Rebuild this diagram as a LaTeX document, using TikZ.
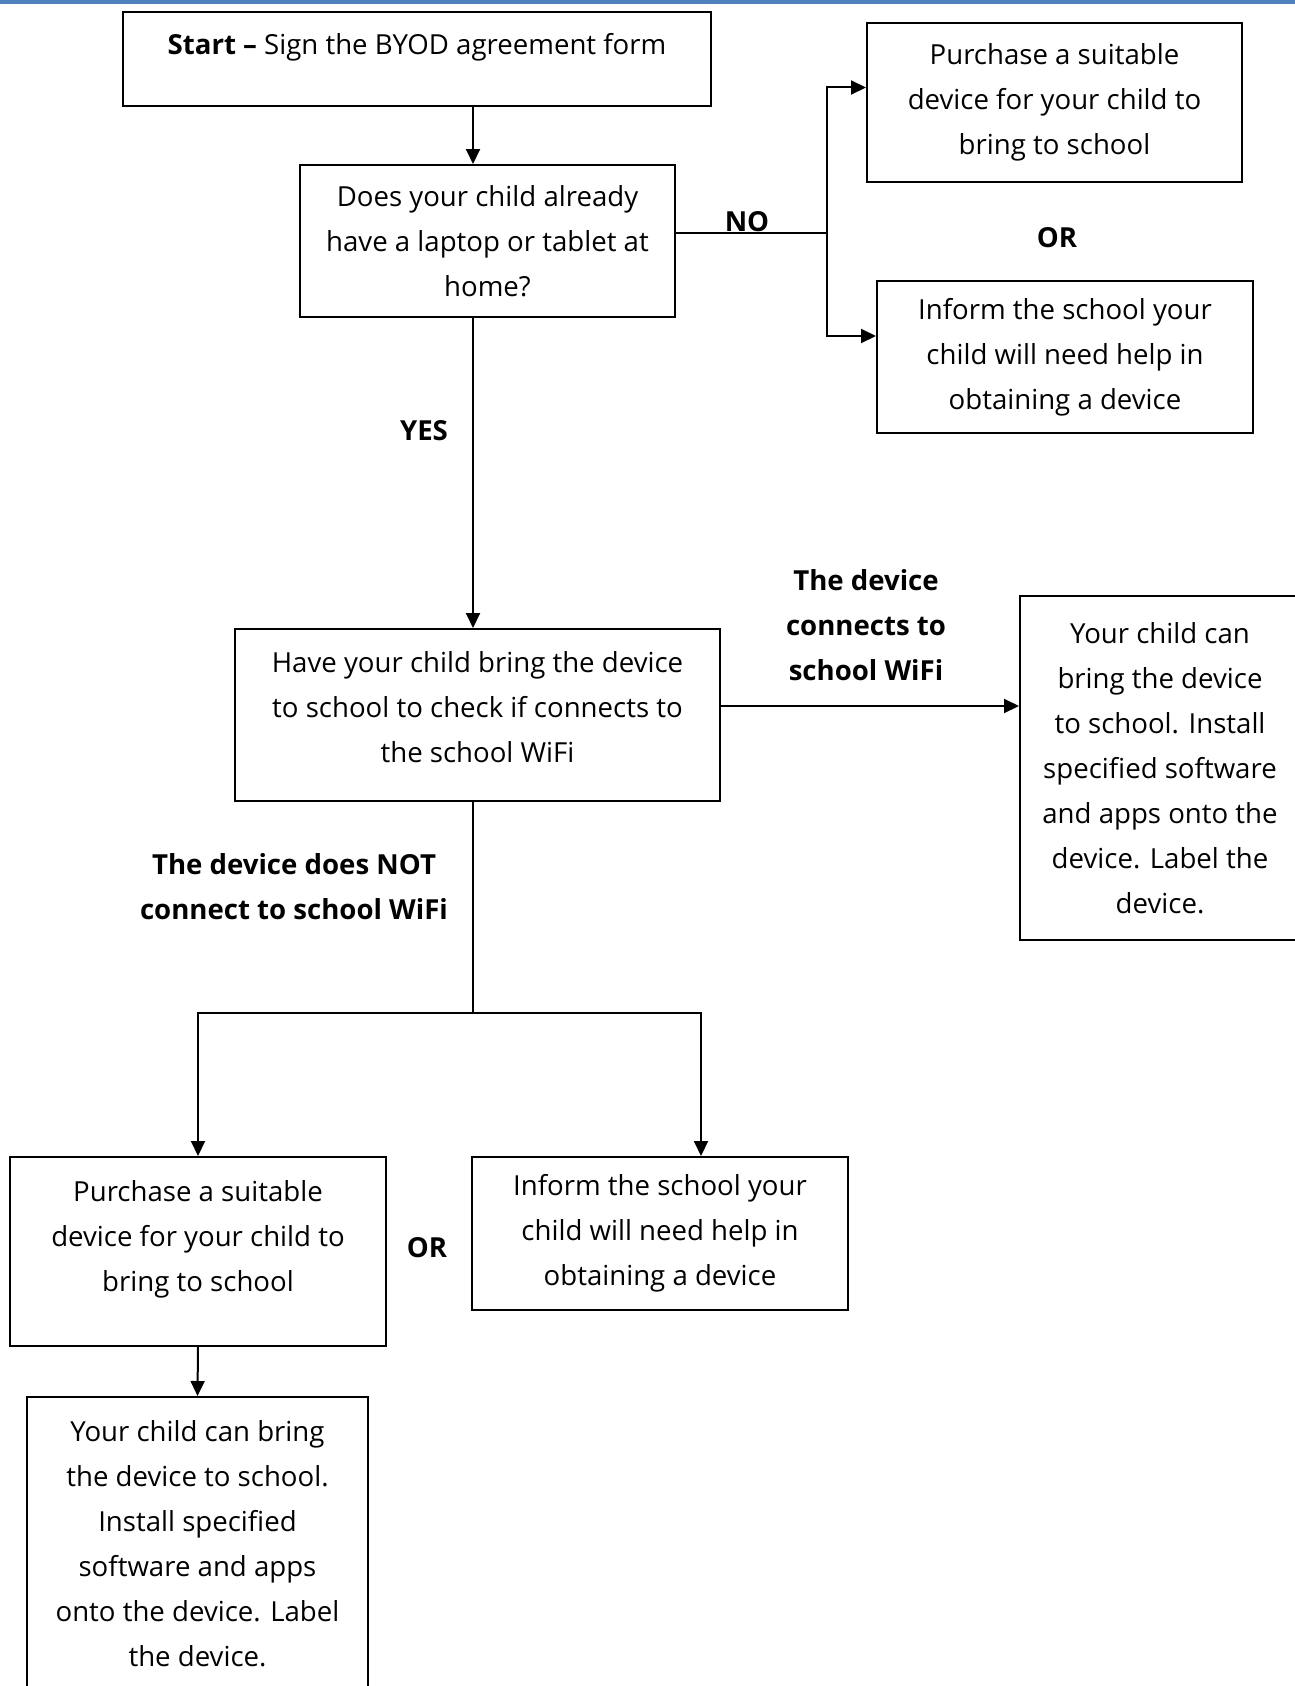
\documentclass[tikz,border=0pt]{standalone}
\usepackage{fontspec}
\setmainfont{Open Sans}
\usepackage{tikz}
\usetikzlibrary{positioning, arrows.meta}
\definecolor{topline}{HTML}{4F81BD}

\tikzset{
  box/.style={draw, line width=1pt, align=center, inner sep=0pt},
  arr/.style={-{Triangle[length=7.5pt, width=7pt]}, line width=1pt},
  lbl/.style={font=\fontsize{13.8}{22.5}\selectfont\bfseries, align=center, inner sep=0pt},
}

\begin{document}
\begin{tikzpicture}[x=0.5pt, y=-0.5pt, font=\fontsize{13.8}{22.5}\selectfont]
\useasboundingbox (0,0) rectangle (1295,1686);
\fill[topline] (0,0) rectangle (1295,4);

% boxes
\node[box, minimum width=294pt, minimum height=47pt] (start) at (417,59) {\textbf{Start --} Sign the BYOD agreement form\\[-7pt]\mbox{}};
\node[box, minimum width=187.5pt, minimum height=76pt] (q) at (487.5,241) {Does your child already\\have a laptop or tablet at\\home?};
\node[box, minimum width=187.5pt, minimum height=79.5pt] (purchA) at (1054.5,102.5) {Purchase a suitable\\device for your child to\\bring to school};
\node[box, minimum width=188pt, minimum height=76pt] (informA) at (1065,357) {Inform the school your\\child will need help in\\obtaining a device};
\node[box, minimum width=242.5pt, minimum height=86pt] (have) at (477.5,715) {Have your child bring the device\\to school to check if connects to\\the school WiFi\\[-15pt]\mbox{}};
\node[box, minimum width=140pt, minimum height=172pt] (wifiok) at (1160,768) {Your child can\\bring the device\\to school. Install\\specified software\\and apps onto the\\device. Label the\\device.};
\node[box, minimum width=188pt, minimum height=94.5pt] (purchB) at (198,1251.5) {Purchase a suitable\\device for your child to\\bring to school\\[-7pt]\mbox{}};
\node[box, minimum width=188pt, minimum height=76.5pt] (informB) at (660,1233.5) {Inform the school your\\child will need help in\\obtaining a device};
\node[box, minimum width=170.5pt, minimum height=146.5pt] (final) at (197.5,1543.5) {Your child can bring\\the device to school.\\Install specified\\software and apps\\onto the device. Label\\the device.};

% labels
\node[lbl] (no) at (747,222) {NO};
\node[lbl] (orA) at (1057,238) {OR};
\node[lbl] (yes) at (424,431) {YES};
\node[lbl] (conn) at (866,625) {The device\\connects to\\school WiFi};
\node[lbl] (noconn) at (294,887) {The device does NOT\\connect to school WiFi};
\node[lbl] (orB) at (427,1248) {OR};

% connectors
\coordinate (trunk) at (473,0);
\coordinate (nosplit) at (827,233);
\coordinate (split) at (473,1013);
\coordinate (rdrop) at (701,1013);
\coordinate (okarrow) at ([yshift=4.5pt]have.east);

\draw[arr] (start.south -| trunk) -- (q.north -| trunk);
\draw[line width=1pt] (q.east |- nosplit) -- (nosplit);
\draw[arr] (nosplit) |- ([yshift=7.5pt]purchA.west);
\draw[arr] (nosplit) |- ([yshift=10.5pt]informA.west);
\draw[arr] (q.south -| trunk) -- (have.north -| trunk);
\draw[arr] (okarrow) -- (okarrow -| wifiok.west);
\draw[line width=1pt] (have.south -| trunk) -- (split);
\draw[arr] (split) -| (purchB.north);
\draw[arr] (split) -- (rdrop) -- (informB.north -| rdrop);
\draw[arr] (purchB.south) -- (final.north);
\end{tikzpicture}
\end{document}
